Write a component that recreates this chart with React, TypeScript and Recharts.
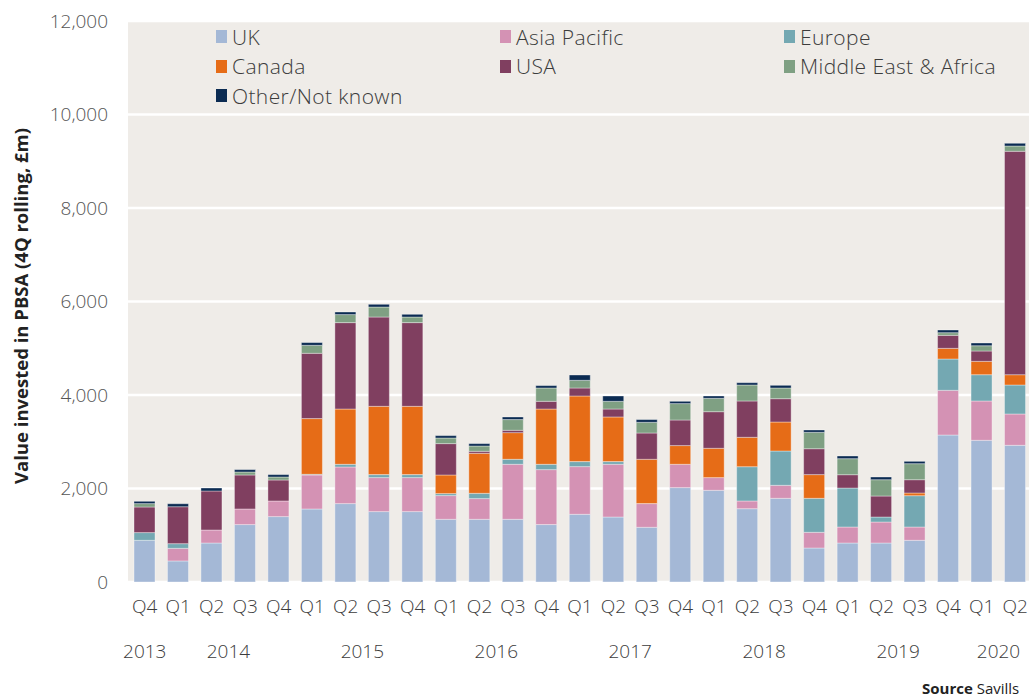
import { Bar, BarChart, CartesianGrid, Legend, XAxis, YAxis } from 'recharts';

// Q4 2013 .. Q2 2020, 4Q rolling PBSA investment (£m) by buyer origin
const quarters = [
  'Q4',
  'Q1', 'Q2', 'Q3', 'Q4',
  'Q1', 'Q2', 'Q3', 'Q4',
  'Q1', 'Q2', 'Q3', 'Q4',
  'Q1', 'Q2', 'Q3', 'Q4',
  'Q1', 'Q2', 'Q3', 'Q4',
  'Q1', 'Q2', 'Q3', 'Q4',
  'Q1', 'Q2',
];
const quarterYears = [
  '2013',
  '2014', '2014', '2014', '2014',
  '2015', '2015', '2015', '2015',
  '2016', '2016', '2016', '2016',
  '2017', '2017', '2017', '2017',
  '2018', '2018', '2018', '2018',
  '2019', '2019', '2019', '2019',
  '2020', '2020',
];

const uk = [892, 450, 834, 1228, 1399, 1562, 1677, 1506, 1506, 1341, 1341, 1341, 1228, 1448, 1390, 1170, 2019, 1961, 1568, 1790, 727, 834, 834, 892, 3144, 3031, 2924];
const asiaPacific = [0, 270, 278, 334, 334, 727, 783, 727, 727, 507, 443, 1177, 1176, 1020, 1128, 507, 499, 272, 165, 278, 336, 342, 449, 284, 956, 841, 670];
const europe = [165, 100, 0, 0, 0, 15, 58, 64, 64, 43, 113, 107, 114, 107, 57, 0, 0, 0, 733, 734, 727, 834, 107, 670, 670, 562, 620];
const canada = [0, 0, 0, 0, 0, 1191, 1182, 1461, 1461, 398, 856, 570, 1182, 1404, 955, 948, 400, 627, 629, 620, 507, 0, 0, 58, 228, 286, 220];
const usa = [547, 790, 835, 727, 449, 1397, 1848, 1910, 1790, 671, 43, 50, 165, 171, 170, 562, 547, 783, 777, 499, 554, 285, 449, 284, 278, 221, 4779];
const middleEastAfrica = [73, 0, 0, 64, 64, 171, 172, 214, 120, 120, 113, 229, 285, 164, 165, 229, 351, 286, 342, 229, 351, 343, 349, 343, 57, 113, 113];
const other = [49, 64, 64, 51, 51, 58, 55, 58, 58, 51, 51, 56, 51, 114, 114, 58, 49, 50, 49, 57, 49, 57, 58, 50, 57, 58, 57];

const seriesKeys = ['uk', 'asiaPacific', 'europe', 'canada', 'usa', 'middleEastAfrica', 'other'];
const seriesNames = ['UK', 'Asia Pacific', 'Europe', 'Canada', 'USA', 'Middle East & Africa', 'Other/Not known'];
const seriesColors = ['#A4B8D6', '#D492B4', '#74A8B2', '#E66C17', '#803F60', '#7FA083', '#0B2B52'];
const seriesValues = [uk, asiaPacific, europe, canada, usa, middleEastAfrica, other];

const yTicks = [0, 2000, 4000, 6000, 8000, 10000, 12000];

const data = quarters.map((q, i) => {
  const row: Record<string, string | number> = { idx: i + 0.5, q, year: quarterYears[i] };
  seriesKeys.forEach((k, s) => {
    row[k] = seriesValues[s][i];
  });
  return row;
});

// year labels sit in the middle of each year's run of quarters
const yearList = quarterYears.filter((y, i) => quarterYears.indexOf(y) === i);
const yearTicks = yearList.map((y) => {
  const first = quarterYears.indexOf(y);
  const last = quarterYears.lastIndexOf(y);
  return (first + last + 1) / 2;
});
const yearAt = (v: number) => yearList[yearTicks.indexOf(v)] ?? '';

const FONT = '"Open Sans", Lato, sans-serif';
const TEXT = '#3c3c3c';

const renderLegend = (props: any) => {
  const items = [...(props.payload ?? [])].sort(
    (a: any, b: any) => seriesNames.indexOf(a.value) - seriesNames.indexOf(b.value),
  );
  return (
    <div style={{ display: 'flex', flexWrap: 'wrap', width: 852, fontFamily: FONT }}>
      {items.map((item: any) => (
        <div
          key={item.value}
          style={{ width: 284, height: 29.5, display: 'flex', alignItems: 'center' }}
        >
          <span
            style={{ display: 'inline-block', width: 11, height: 13, background: item.color, marginRight: 5 }}
          />
          <span style={{ fontSize: 21, color: TEXT, fontWeight: 300, letterSpacing: 0.4 }}>
            {item.value}
          </span>
        </div>
      ))}
    </div>
  );
};

export default function App() {
  return (
    <div
      style={{
        position: 'absolute',
        left: 0,
        top: 0,
        width: 1029,
        height: 697,
        overflow: 'hidden',
        background: '#ffffff',
        fontFamily: FONT,
      }}
    >
      <BarChart
        width={1032}
        height={697}
        data={data}
        margin={{ top: 21, right: 0, bottom: 25, left: 0 }}
        barSize={21}
      >
        <CartesianGrid
          vertical={false}
          stroke="#ffffff"
          strokeWidth={2.5}
          fill="#EFECE8"
        />
        <XAxis
          dataKey="q"
          axisLine={false}
          tickLine={false}
          tickSize={0}
          tickMargin={18}
          height={45}
          interval={0}
          tick={{ fontSize: 19, fill: TEXT, fontFamily: FONT, fontWeight: 300 }}
        />
        <XAxis
          xAxisId="year"
          dataKey="idx"
          type="number"
          domain={[0, quarters.length]}
          ticks={yearTicks}
          tickFormatter={yearAt}
          axisLine={false}
          tickLine={false}
          tickSize={0}
          tickMargin={18}
          height={45}
          interval={0}
          tick={{ fontSize: 19, fill: TEXT, fontFamily: FONT, fontWeight: 300 }}
        />
        <YAxis
          width={128}
          domain={[0, 12000]}
          ticks={yTicks}
          interval={0}
          axisLine={false}
          tickLine={false}
          tickSize={0}
          tickMargin={20}
          tickFormatter={(v: number) => v.toLocaleString('en-GB')}
          tick={{ fontSize: 19, fill: '#555555', fontFamily: FONT, fontWeight: 300 }}
        />
        <Legend
          layout="horizontal"
          verticalAlign="middle"
          align="center"
          wrapperStyle={{ top: 22, left: 216, width: 852 }}
          content={renderLegend}
        />
        {seriesKeys.map((k, s) => (
          <Bar
            key={k}
            dataKey={k}
            name={seriesNames[s]}
            stackId="invest"
            fill={seriesColors[s]}
            stroke="#ffffff"
            strokeOpacity={0.45}
            strokeWidth={0.8}
            isAnimationActive={false}
          />
        ))}
      </BarChart>

      <div
        style={{
          position: 'absolute',
          left: 20,
          top: 306,
          transform: 'translate(-50%, -50%) rotate(-90deg)',
          whiteSpace: 'nowrap',
          fontSize: 18.5,
          fontWeight: 700,
          color: '#222222',
        }}
      >
        Value invested in PBSA (4Q rolling, £m)
      </div>

      <div
        style={{
          position: 'absolute',
          left: 922,
          top: 678,
          whiteSpace: 'nowrap',
          fontSize: 15,
          color: '#222222',
        }}
      >
        <b>Source</b> Savills
      </div>
    </div>
  );
}
